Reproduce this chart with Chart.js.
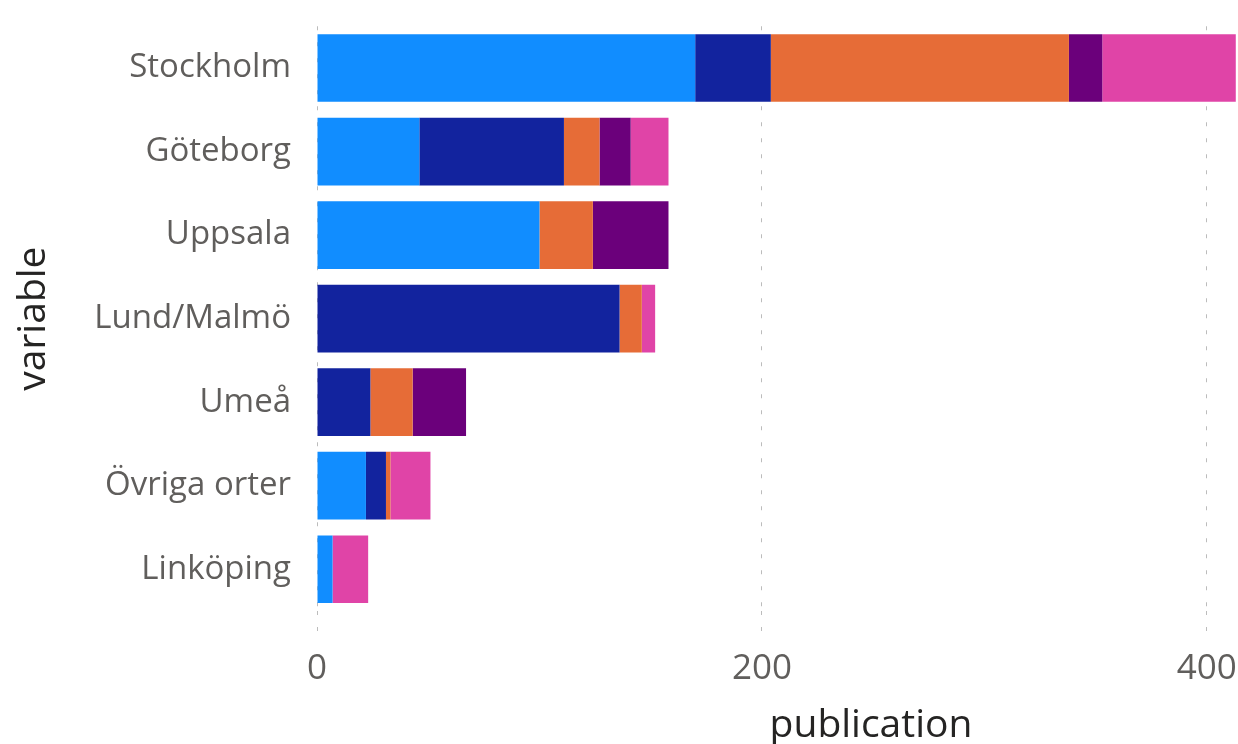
<!DOCTYPE html>
<html>
<head>
<meta charset="utf-8">
<title>publication per variable</title>
<script src="https://cdn.jsdelivr.net/npm/chart.js@4"></script>
<style>
    html, body { margin: 0; padding: 0; background: #ffffff; }
    #wrap { width: 1238px; height: 744px; position: relative; }
</style>
</head>
<body>
<div id="wrap"><canvas id="pubChart"></canvas></div>
<script>
// --- DATA ---
const cities = ['Stockholm', 'Göteborg', 'Uppsala', 'Lund/Malmö', 'Umeå', 'Övriga orter', 'Linköping'];
const seriesNames = ['Serie 1', 'Serie 2', 'Serie 3', 'Serie 4', 'Serie 5'];
const serie1 = [170, 46, 100, 0, 0, 22, 7];
const serie2 = [34, 65, 0, 136, 24, 9, 0];
const serie3 = [134, 16, 24, 10, 19, 2, 0];
const serie4 = [15, 14, 34, 0, 24, 0, 0];
const serie5 = [60, 17, 0, 6, 0, 18, 16];
const xTicks = [0, 200, 400];
const xTitle = 'publication';
const yTitle = 'variable';

const colors = ['#118DFF', '#12239E', '#E66C37', '#6B007B', '#E044A7'];

// The x title in the picture sits right of the plot centre, so draw it ourselves
const xTitlePlugin = {
    id: 'xTitlePlugin',
    afterDraw(chart) {
        const c = chart.ctx;
        c.save();
        c.font = '39px "Open Sans"';
        c.fillStyle = '#252423';
        c.textAlign = 'center';
        c.textBaseline = 'alphabetic';
        c.fillText(xTitle, 871, 737);
        c.restore();
    }
};

document.addEventListener('DOMContentLoaded', () => {
    const ctx = document.getElementById('pubChart').getContext('2d');
    const allSeries = [serie1, serie2, serie3, serie4, serie5];

    // one dataset per colour, stacked horizontally
    const datasets = allSeries.map((values, i) => ({
        label: seriesNames[i],
        data: values,
        backgroundColor: colors[i],
        borderWidth: 0,
        categoryPercentage: 1.0,
        barPercentage: 0.81
    }));

    new Chart(ctx, {
        type: 'bar',
        data: { labels: cities, datasets: datasets },
        options: {
            indexAxis: 'y',
            responsive: true,
            maintainAspectRatio: false,
            animation: false,
            layout: { padding: { top: 23, right: 0, bottom: 0, left: 0 } },
            plugins: {
                legend: { display: false },
                tooltip: { enabled: false }
            },
            scales: {
                x: {
                    stacked: true,
                    min: 0,
                    max: 414,
                    afterFit: (scale) => {
                        scale.height = 133;
                        // let the plot run to the right edge like the original
                        scale.paddingRight = 0;
                        scale.paddingLeft = 0;
                    },
                    afterBuildTicks: (scale) => {
                        scale.ticks = xTicks.map(v => ({ value: v }));
                    },
                    ticks: {
                        color: '#605E5C',
                        padding: 8,
                        maxRotation: 0,
                        font: { family: 'Open Sans', size: 35 }
                    },
                    grid: {
                        color: '#bcbcbc',
                        lineWidth: 1,
                        tickLength: 29,
                        tickColor: '#bcbcbc',
                        tickBorderDash: [4, 12]
                    },
                    border: { display: false, dash: [4, 12] },
                    title: { display: false, text: xTitle }
                },
                y: {
                    stacked: true,
                    afterFit: (scale) => { scale.width = 317; },
                    ticks: {
                        color: '#605E5C',
                        padding: 18,
                        // small line height keeps the label from pushing the plot down
                        font: { family: 'Open Sans', size: 33, lineHeight: 0.5 }
                    },
                    grid: { display: false },
                    border: { display: false },
                    title: {
                        display: true,
                        text: yTitle,
                        color: '#252423',
                        padding: { top: 10, bottom: 0 },
                        font: { family: 'Open Sans', size: 39 }
                    }
                }
            }
        },
        plugins: [xTitlePlugin]
    });
});
</script>
</body>
</html>
